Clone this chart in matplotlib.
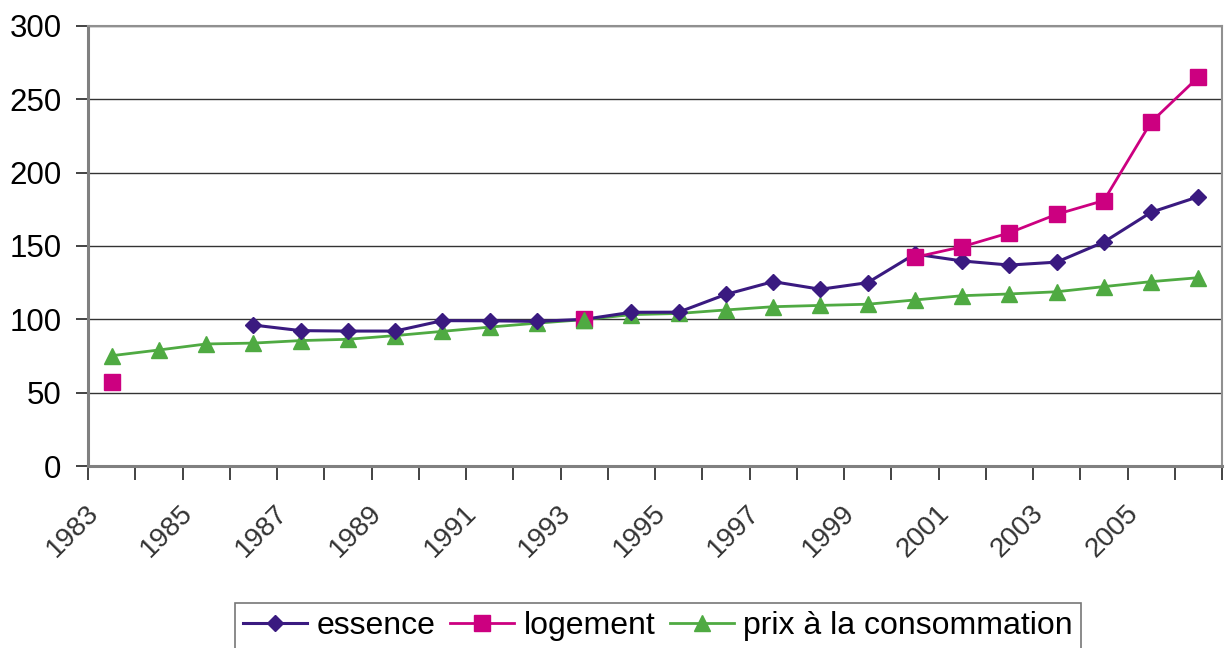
import matplotlib
matplotlib.use("Agg")
import matplotlib.pyplot as plt
import matplotlib.transforms as mtransforms
import numpy as np

years = list(range(1983, 2007))
nan = np.nan
essence = [nan, nan, nan, 96.1, 92.3, 92.0, 92.0, 99.1, 99.0, 98.6, 100.0, 104.8,
           104.9, 117.0, 125.7, 120.5, 125.0, 144.5, 139.8, 137.0, 139.0, 152.7, 173.0, 183.6]
logement = [57.3, nan, nan, nan, nan, nan, nan, nan, nan, nan, 100.0, nan,
            nan, nan, nan, nan, nan, 142.3, 149.5, 159.0, 171.6, 181.0, 234.5, 265.2]
prix = [75.2, 79.1, 83.2, 83.8, 85.5, 86.4, 88.9, 91.8, 94.7, 97.4, 99.8, 103.2,
        104.0, 106.4, 108.6, 109.5, 110.3, 113.2, 116.1, 117.3, 118.8, 122.3, 125.7, 128.4]
tick_labels = [str(y) if (y - 1983) % 2 == 0 else "" for y in years]

plt.rcParams['font.family'] = ['Liberation Sans', 'DejaVu Sans']

fig = plt.figure(figsize=(12.26, 6.48), dpi=100)
ax = fig.add_axes([88/1226, 1-466/648, (1222-88)/1226, (466-26)/648])

x = np.arange(len(years))
c_ess = '#3A1A80'
c_log = '#CC0080'
c_prx = '#4FAA42'

ax.plot(x, prix, color=c_prx, lw=2.0, marker='^', ms=11, mec=c_prx, mfc=c_prx,
        label='prix à la consommation', zorder=3)
ax.plot(x, essence, color=c_ess, lw=2.2, marker='D', ms=8, mec=c_ess, mfc=c_ess,
        label='essence', zorder=4)
ax.plot(x, logement, color=c_log, lw=2.0, marker='s', ms=12, mec=c_log, mfc=c_log,
        label='logement', zorder=5)
ax.plot([10], [prix[10]], color=c_prx, marker='^', ms=11, ls='none', zorder=6)

ax.set_xlim(-0.5, len(years) - 0.5)
ax.set_ylim(0, 300)
ax.set_yticks(range(0, 301, 50))
ax.yaxis.grid(True, color='#333333', lw=1.0)
ax.set_axisbelow(True)

ax.set_xticks(x)
ax.set_xticklabels(tick_labels, rotation=45, ha='right', va='baseline',
                   rotation_mode='anchor', fontsize=20, color='#333333')
ax.set_xticks(np.arange(-0.5, len(years), 1), minor=True)
ax.tick_params(axis='x', which='major', length=0, pad=38)
ax.tick_params(axis='x', which='minor', length=10, width=1.2, color='#222222')
ax.tick_params(axis='y', length=9, width=1.2, labelsize=22.5, pad=10, color='#222222')

offset = mtransforms.ScaledTranslation(-0.12, 0.05, fig.dpi_scale_trans)
for lab in ax.get_xticklabels():
    lab.set_transform(lab.get_transform() + offset)

for s in ['left', 'bottom']:
    ax.spines[s].set_color('#808080')
    ax.spines[s].set_linewidth(2.2)
for s in ['top', 'right']:
    ax.spines[s].set_color('#909090')
    ax.spines[s].set_linewidth(1.5)

handles, labels = ax.get_legend_handles_labels()
order = [1, 2, 0]
leg = fig.legend([handles[i] for i in order], [labels[i] for i in order],
                 loc='upper center', bbox_to_anchor=(658/1226, 1-603/648),
                 ncol=3, fontsize=23, frameon=True, fancybox=False,
                 handlelength=2.0, handletextpad=0.3, columnspacing=0.45,
                 borderpad=0.25, borderaxespad=0)
leg.get_frame().set_edgecolor('#555555')
leg.get_frame().set_linewidth(1.2)

fig.savefig('out.png', dpi=100)
